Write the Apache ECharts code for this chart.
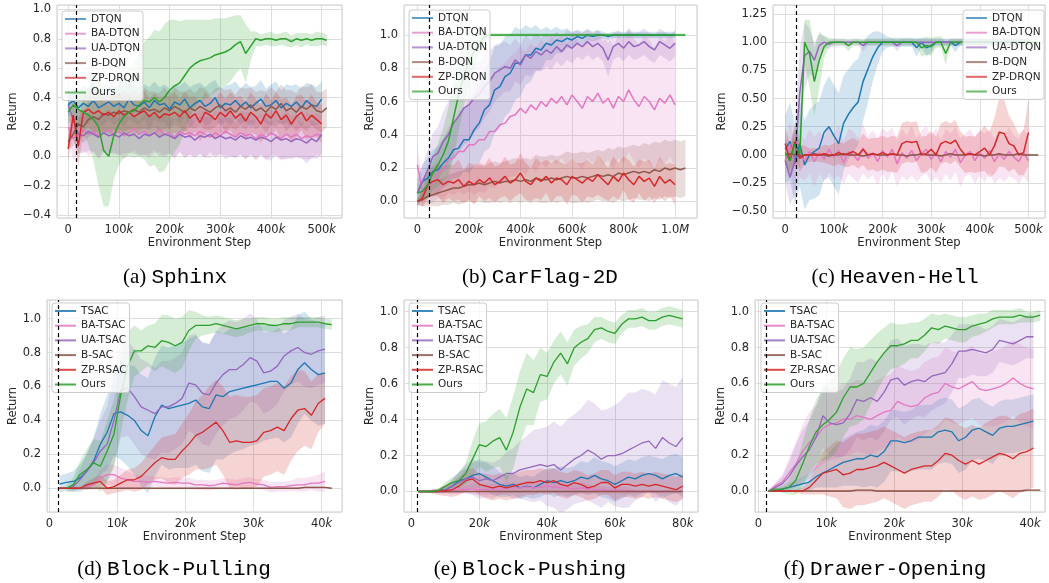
<!DOCTYPE html>
<html>
<head>
<meta charset="utf-8">
<script src="https://cdn.jsdelivr.net/npm/echarts@6/dist/echarts.min.js"></script>
<style>
  html, body { margin: 0; background: #fff; }
  #chart { width: 1049px; height: 583px; }
</style>
</head>
<body>
<div id="chart"></div>
<script>
// series names
const dqnNames = ['DTQN', 'BA-DTQN', 'UA-DTQN', 'B-DQN', 'ZP-DRQN', 'Ours'];
const sacNames = ['TSAC', 'BA-TSAC', 'UA-TSAC', 'B-SAC', 'ZP-RSAC', 'Ours'];
const captions = [['(a)', 'Sphinx'], ['(b)', 'CarFlag-2D'], ['(c)', 'Heaven-Hell'],
                  ['(d)', 'Block-Pulling'], ['(e)', 'Block-Pushing'], ['(f)', 'Drawer-Opening']];
// dashed line (warm-up), in k steps
const warmupSteps = [15, 45, 22, 1.36, 1.65, 1.09];

// ---- (a) Sphinx, steps in k
const stepsA = [0,10,20,30,40,50,60,70,80,90,100,110,120,130,140,150,160,170,180,190,200,210,220,230,240,250,260,270,280,290,300,310,320,330,340,350,360,370,380,390,400,410,420,430,440,450,460,470,480,490,500,510];
const aDtqn = [0.35,0.38,0.33,0.36,0.34,0.38,0.33,0.35,0.37,0.34,0.36,0.33,0.39,0.35,0.34,0.37,0.33,0.38,0.35,0.36,0.32,0.37,0.35,0.39,0.33,0.36,0.38,0.34,0.36,0.40,0.33,0.36,0.35,0.38,0.34,0.37,0.33,0.36,0.39,0.34,0.35,0.38,0.33,0.36,0.34,0.37,0.33,0.38,0.35,0.34,0.39,null];
const aBa = [0.20,0.12,0.16,0.18,0.15,0.17,0.14,0.16,0.18,0.15,0.17,0.14,0.16,0.19,0.15,0.17,0.14,0.16,0.18,0.15,0.16,0.13,0.17,0.15,0.16,0.14,0.17,0.15,0.13,0.16,0.14,0.17,0.15,0.13,0.16,0.14,0.15,0.12,0.15,0.13,0.16,0.14,0.12,0.15,0.13,0.15,0.12,0.14,0.13,0.15,0.14,null];
const aUa = [0.35,0.25,0.15,0.14,0.17,0.15,0.13,0.16,0.14,0.15,0.13,0.16,0.14,0.15,0.12,0.15,0.14,0.16,0.13,0.15,0.14,0.12,0.15,0.13,0.14,0.11,0.14,0.13,0.15,0.12,0.14,0.12,0.13,0.11,0.14,0.12,0.13,0.11,0.13,0.12,0.10,0.13,0.11,0.12,0.10,0.12,0.11,0.09,0.12,0.10,0.15,null];
const aB = [0.10,0.15,0.22,0.20,0.25,0.27,0.25,0.29,0.28,0.30,0.29,0.31,0.30,0.32,0.30,0.33,0.31,0.32,0.30,0.33,0.31,0.34,0.32,0.30,0.33,0.31,0.34,0.32,0.30,0.33,0.35,0.31,0.33,0.30,0.34,0.32,0.35,0.31,0.33,0.30,0.34,0.32,0.36,0.31,0.33,0.30,0.34,0.32,0.35,0.31,0.30,0.33];
const aZp = [0.05,0.28,0.07,0.30,0.32,0.29,0.31,0.28,0.30,0.27,0.31,0.28,0.30,0.27,0.29,0.31,0.27,0.30,0.26,0.29,0.28,0.30,0.27,0.31,0.26,0.29,0.23,0.30,0.28,0.25,0.30,0.27,0.31,0.26,0.29,0.24,0.30,0.27,0.22,0.29,0.26,0.31,0.25,0.28,0.22,0.27,0.30,0.24,0.28,0.25,0.22,null];
const aOurs = [0.30,0.35,0.32,0.30,0.28,0.25,0.20,0.04,0.00,0.14,0.22,0.27,0.30,0.31,0.35,0.38,0.37,0.40,0.37,0.40,0.45,0.48,0.50,0.55,0.60,0.63,0.65,0.66,0.67,0.69,0.70,0.71,0.73,0.76,0.78,0.70,0.75,0.80,0.79,0.80,0.80,0.79,0.80,0.80,0.78,0.80,0.79,0.80,0.79,0.80,0.80,0.79];
const aDtqnSd = [0.08,0.10,0.12,0.13,0.12,0.13,0.12,0.14,0.12,0.13,0.12,0.13,0.14,0.12,0.13,0.12,0.14,0.13,0.12,0.13,0.14,0.12,0.13,0.12,0.14,0.13,0.12,0.13,0.14,0.12,0.13,0.12,0.14,0.13,0.12,0.13,0.14,0.12,0.13,0.12,0.14,0.13,0.12,0.13,0.14,0.12,0.13,0.12,0.14,0.13,0.12,0];
const aBaSd = [0.10,0.14,0.15,0.14,0.15,0.14,0.16,0.14,0.15,0.14,0.15,0.16,0.14,0.15,0.14,0.16,0.15,0.14,0.15,0.16,0.14,0.15,0.14,0.16,0.15,0.14,0.15,0.16,0.14,0.15,0.14,0.16,0.15,0.14,0.15,0.16,0.14,0.15,0.14,0.16,0.15,0.14,0.15,0.16,0.14,0.15,0.14,0.16,0.15,0.14,0.15,0];
const aUaSd = [0.12,0.14,0.13,0.12,0.13,0.12,0.14,0.12,0.13,0.12,0.13,0.14,0.12,0.13,0.12,0.14,0.13,0.12,0.13,0.14,0.12,0.13,0.12,0.14,0.13,0.12,0.13,0.14,0.12,0.13,0.12,0.14,0.13,0.12,0.13,0.14,0.12,0.13,0.12,0.14,0.13,0.12,0.13,0.14,0.12,0.13,0.12,0.14,0.13,0.12,0.13,0];
const aBSd = [0.05,0.08,0.10,0.11,0.12,0.12,0.13,0.12,0.13,0.12,0.13,0.14,0.12,0.13,0.12,0.14,0.13,0.12,0.13,0.14,0.12,0.13,0.12,0.14,0.13,0.12,0.13,0.14,0.12,0.13,0.12,0.14,0.13,0.12,0.13,0.14,0.12,0.13,0.12,0.14,0.13,0.12,0.13,0.14,0.12,0.13,0.14,0.15,0.14,0.13,0.14,0.13];
const aZpSd = [0.08,0.12,0.14,0.13,0.12,0.13,0.14,0.12,0.13,0.14,0.12,0.13,0.14,0.12,0.13,0.14,0.12,0.13,0.14,0.12,0.13,0.14,0.12,0.13,0.14,0.12,0.13,0.14,0.12,0.13,0.14,0.12,0.13,0.14,0.12,0.13,0.14,0.12,0.13,0.14,0.12,0.13,0.14,0.12,0.13,0.14,0.12,0.13,0.14,0.12,0.13,0];
const aOursSd = [0.08,0.10,0.12,0.15,0.20,0.28,0.40,0.38,0.34,0.30,0.28,0.28,0.30,0.32,0.35,0.40,0.44,0.46,0.48,0.50,0.48,0.45,0.42,0.38,0.33,0.30,0.28,0.27,0.26,0.25,0.24,0.23,0.22,0.20,0.18,0.20,0.10,0.05,0.04,0.04,0.05,0.04,0.04,0.05,0.04,0.04,0.05,0.04,0.04,0.05,0.04,0.04];

// ---- (b) CarFlag-2D
const stepsB = [0,20,40,60,80,100,120,140,160,180,200,220,240,260,280,300,320,340,360,380,400,420,440,460,480,500,520,540,560,580,600,620,640,660,680,700,720,740,760,780,800,820,840,860,880,900,920,940,960,980,1000,1020,1040];
const bDtqn = [0.05,0.12,0.14,0.18,0.19,0.23,0.26,0.31,0.32,0.37,0.37,0.43,0.47,0.55,0.58,0.67,0.69,0.75,0.77,0.83,0.83,0.88,0.88,0.92,0.91,0.95,0.94,0.97,0.96,0.98,0.97,0.99,0.98,1.00,0.99,1.00,1.00,0.99,1.00,1.00,1.00,1.00,1.00,1.00,1.00,1.00,1.00,1.00,1.00,1.00,1.00,null,null];
const bBa = [0.22,0.05,0.09,0.11,0.17,0.19,0.25,0.26,0.30,0.30,0.34,0.34,0.37,0.37,0.42,0.42,0.46,0.47,0.51,0.52,0.56,0.53,0.58,0.55,0.60,0.57,0.62,0.59,0.63,0.58,0.64,0.60,0.56,0.63,0.60,0.65,0.59,0.62,0.56,0.63,0.60,0.67,0.61,0.57,0.63,0.60,0.55,0.62,0.59,0.64,0.58,null,null];
const bUa = [0.05,0.12,0.19,0.27,0.29,0.36,0.40,0.47,0.51,0.56,0.58,0.62,0.64,0.69,0.72,0.77,0.79,0.81,0.80,0.85,0.82,0.88,0.86,0.90,0.88,0.91,0.89,0.93,0.90,0.94,0.92,0.95,0.93,0.96,0.93,0.95,0.92,0.85,0.93,0.95,0.92,0.96,0.93,0.94,0.96,0.93,0.91,0.96,0.94,0.92,0.95,null,null];
const bB = [0.00,0.01,0.03,0.04,0.05,0.06,0.07,0.08,0.08,0.09,0.10,0.10,0.11,0.10,0.11,0.12,0.11,0.12,0.12,0.13,0.12,0.13,0.12,0.14,0.13,0.13,0.14,0.13,0.14,0.15,0.14,0.14,0.15,0.14,0.15,0.16,0.15,0.16,0.15,0.17,0.16,0.17,0.18,0.17,0.18,0.17,0.19,0.18,0.20,0.19,0.20,0.19,0.20];
const bZp = [0.00,0.02,0.10,0.12,0.13,0.10,0.12,0.11,0.13,0.09,0.12,0.10,0.13,0.11,0.14,0.10,0.12,0.15,0.11,0.13,0.17,0.12,0.10,0.14,0.12,0.15,0.11,0.14,0.13,0.10,0.15,0.13,0.11,0.14,0.12,0.16,0.13,0.10,0.15,0.12,0.17,0.13,0.10,0.15,0.12,0.14,0.09,0.15,0.11,0.13,0.10,null,null];
const bOurs = [0.05,0.06,0.10,0.17,0.22,0.28,0.36,0.50,0.64,0.75,0.84,0.90,0.95,0.99,1.00,1.00,1.00,1.00,1.00,1.00,1.00,1.00,1.00,1.00,1.00,1.00,1.00,1.00,1.00,1.00,1.00,1.00,1.00,1.00,1.00,1.00,1.00,1.00,1.00,1.00,1.00,1.00,1.00,1.00,1.00,1.00,1.00,1.00,1.00,1.00,1.00,1.00,1.00];
const bDtqnSd = [0.08,0.10,0.12,0.13,0.14,0.15,0.16,0.17,0.18,0.19,0.20,0.22,0.24,0.25,0.26,0.26,0.25,0.24,0.23,0.22,0.20,0.18,0.16,0.14,0.12,0.10,0.09,0.08,0.07,0.06,0.05,0.04,0.04,0.03,0.03,0.03,0.02,0.02,0.02,0.02,0.02,0.02,0.02,0.02,0.02,0.02,0.02,0.02,0.02,0.02,0.02,0,0];
const bBaSd = [0.10,0.08,0.10,0.12,0.15,0.18,0.20,0.22,0.24,0.26,0.28,0.30,0.31,0.32,0.33,0.34,0.35,0.36,0.36,0.37,0.37,0.37,0.37,0.37,0.37,0.37,0.37,0.37,0.37,0.37,0.37,0.37,0.37,0.37,0.37,0.37,0.37,0.37,0.37,0.37,0.37,0.37,0.37,0.37,0.37,0.37,0.37,0.37,0.37,0.37,0.37,0,0];
const bUaSd = [0.08,0.10,0.12,0.14,0.16,0.18,0.20,0.21,0.22,0.22,0.22,0.21,0.20,0.19,0.18,0.17,0.16,0.15,0.14,0.13,0.12,0.12,0.11,0.11,0.10,0.10,0.10,0.09,0.09,0.09,0.09,0.08,0.08,0.08,0.08,0.08,0.08,0.10,0.08,0.08,0.08,0.08,0.08,0.08,0.08,0.08,0.08,0.08,0.08,0.08,0.08,0,0];
const bBSd = [0.02,0.04,0.06,0.07,0.08,0.08,0.09,0.09,0.10,0.10,0.10,0.11,0.11,0.11,0.12,0.12,0.12,0.12,0.13,0.13,0.13,0.13,0.13,0.14,0.14,0.14,0.14,0.14,0.14,0.15,0.15,0.15,0.15,0.15,0.15,0.15,0.15,0.16,0.16,0.16,0.16,0.16,0.16,0.16,0.17,0.17,0.17,0.17,0.17,0.17,0.17,0.17,0.17];
const bZpSd = [0.02,0.05,0.08,0.09,0.10,0.11,0.10,0.11,0.12,0.10,0.11,0.12,0.10,0.11,0.12,0.11,0.10,0.12,0.11,0.10,0.12,0.11,0.10,0.12,0.11,0.10,0.12,0.11,0.10,0.12,0.11,0.10,0.12,0.11,0.10,0.12,0.11,0.10,0.12,0.11,0.10,0.12,0.11,0.10,0.12,0.11,0.10,0.12,0.11,0.10,0.12,0,0];
const bOursSd = [0.05,0.06,0.08,0.10,0.13,0.16,0.20,0.24,0.22,0.18,0.14,0.10,0.06,0.03,0.01,0.01,0.01,0.01,0.01,0.01,0.01,0.01,0.01,0.01,0.01,0.01,0.01,0.01,0.01,0.01,0.01,0.01,0.01,0.01,0.01,0.01,0.01,0.01,0.01,0.01,0.01,0.01,0.01,0.01,0.01,0.01,0.01,0.01,0.01,0.01,0.01,0.01,0.01];

// ---- (c) Heaven-Hell
const stepsC = [0,10,20,30,40,50,60,70,80,90,100,110,120,130,140,150,160,170,180,190,200,210,220,230,240,250,260,270,280,290,300,310,320,330,340,350,360,370,380,390,400,410,420,430,440,450,460,470,480,490,500,510,520];
const cDtqn = [0.05,0.12,-0.08,0.10,-0.09,0.00,0.03,0.06,0.20,0.25,0.17,0.10,0.28,0.36,0.42,0.47,0.65,0.76,0.87,0.95,1.00,1.00,1.00,1.00,1.00,1.00,1.00,0.95,1.00,0.95,0.97,1.00,1.00,1.00,1.00,0.97,1.00,1.00,1.00,1.00,1.00,1.00,1.00,1.00,1.00,1.00,1.00,1.00,1.00,1.00,1.00,null,null];
const cBa = [-0.05,0.10,-0.10,0.00,-0.05,0.03,-0.06,0.02,-0.04,0.05,-0.02,0.04,-0.07,0.03,0.00,-0.05,0.06,-0.03,0.02,-0.06,0.04,-0.02,0.05,-0.08,0.02,-0.03,0.04,-0.05,0.01,0.05,-0.04,0.02,-0.06,0.03,-0.02,0.05,-0.07,0.00,0.03,-0.05,0.02,-0.03,0.04,-0.06,0.01,-0.04,0.03,-0.02,-0.06,0.02,-0.05,null,null];
const cUa = [-0.05,-0.20,-0.05,0.55,0.88,0.92,0.84,0.97,1.00,0.98,1.00,1.00,1.00,1.00,1.00,1.00,0.97,1.00,1.00,1.00,1.00,1.00,1.00,0.97,1.00,1.00,1.00,1.00,1.00,1.00,1.00,1.00,1.00,1.00,1.00,1.00,1.00,1.00,1.00,1.00,1.00,1.00,1.00,1.00,1.00,1.00,1.00,1.00,1.00,1.00,1.00,null,null];
const cB = [0.00,0.01,0.00,-0.01,0.00,0.00,0.01,0.00,0.00,-0.01,0.00,0.00,0.01,0.00,0.00,0.00,-0.01,0.00,0.01,0.00,0.00,0.00,0.01,0.00,0.00,-0.01,0.00,0.00,0.01,0.00,0.00,0.00,-0.01,0.00,0.01,0.00,0.00,0.00,0.01,0.00,0.00,-0.01,0.00,0.00,0.01,0.00,0.00,0.00,0.01,0.00,0.00,0.00,0.00];
const cZp = [0.10,-0.05,0.12,-0.03,0.00,0.00,0.00,0.00,0.01,0.00,0.00,0.02,0.00,0.01,0.03,0.00,0.05,0.00,0.01,0.00,0.02,0.00,0.01,0.00,0.10,0.12,0.11,0.12,0.00,0.01,0.05,0.00,0.10,0.12,0.10,0.13,0.05,0.00,0.01,0.00,0.03,0.06,0.00,0.08,0.20,0.19,0.10,0.08,0.00,0.02,0.20,null,null];
const cOurs = [0.02,-0.05,0.10,0.00,1.00,0.90,0.65,0.84,0.96,1.00,1.00,1.00,1.00,0.97,1.00,1.00,1.00,1.00,1.00,1.00,1.00,1.00,1.00,1.00,1.00,1.00,1.00,1.00,0.95,0.97,0.96,1.00,1.00,0.90,1.00,1.00,1.00,1.00,1.00,1.00,1.00,1.00,1.00,1.00,1.00,1.00,1.00,1.00,1.00,1.00,1.00,1.00,1.00];
const cDtqnSd = [0.30,0.35,0.35,0.38,0.40,0.40,0.42,0.42,0.42,0.45,0.45,0.45,0.42,0.40,0.40,0.38,0.35,0.30,0.22,0.15,0.08,0.05,0.04,0.04,0.04,0.04,0.04,0.08,0.04,0.08,0.06,0.03,0.03,0.03,0.03,0.06,0.03,0.03,0.03,0.03,0.03,0.03,0.03,0.03,0.03,0.03,0.03,0.03,0.03,0.03,0.03,0,0];
const cBaSd = [0.15,0.20,0.22,0.20,0.18,0.20,0.22,0.19,0.20,0.21,0.20,0.22,0.19,0.20,0.21,0.20,0.22,0.19,0.20,0.21,0.20,0.22,0.19,0.20,0.21,0.20,0.22,0.19,0.20,0.21,0.20,0.22,0.19,0.20,0.21,0.20,0.22,0.19,0.20,0.21,0.20,0.22,0.19,0.20,0.21,0.20,0.22,0.19,0.20,0.21,0.20,0,0];
const cUaSd = [0.20,0.25,0.30,0.40,0.30,0.20,0.15,0.10,0.05,0.04,0.03,0.03,0.03,0.03,0.03,0.03,0.05,0.03,0.03,0.03,0.03,0.03,0.03,0.05,0.03,0.03,0.03,0.03,0.03,0.03,0.03,0.03,0.03,0.03,0.03,0.03,0.03,0.03,0.03,0.03,0.03,0.03,0.03,0.03,0.03,0.03,0.03,0.03,0.03,0.03,0.03,0,0];
const cBSd = [0.01,0.01,0.01,0.01,0.01,0.01,0.01,0.01,0.01,0.01,0.01,0.01,0.01,0.01,0.01,0.01,0.01,0.01,0.01,0.01,0.01,0.01,0.01,0.01,0.01,0.01,0.01,0.01,0.01,0.01,0.01,0.01,0.01,0.01,0.01,0.01,0.01,0.01,0.01,0.01,0.01,0.01,0.01,0.01,0.01,0.01,0.01,0.01,0.01,0.01,0.01,0.01,0.01];
const cZpSd = [0.15,0.15,0.15,0.12,0.08,0.06,0.06,0.06,0.08,0.08,0.10,0.10,0.10,0.12,0.12,0.12,0.14,0.14,0.14,0.15,0.15,0.15,0.16,0.16,0.18,0.18,0.18,0.18,0.16,0.16,0.16,0.16,0.18,0.18,0.18,0.18,0.16,0.16,0.16,0.16,0.18,0.20,0.20,0.25,0.30,0.30,0.25,0.20,0.18,0.20,0.30,0,0];
const cOursSd = [0.10,0.10,0.12,0.12,0.20,0.30,0.30,0.25,0.10,0.04,0.03,0.03,0.03,0.05,0.03,0.03,0.03,0.03,0.03,0.03,0.03,0.03,0.03,0.03,0.03,0.03,0.03,0.03,0.08,0.08,0.08,0.05,0.05,0.10,0.03,0.03,0.03,0.03,0.03,0.03,0.03,0.03,0.03,0.03,0.03,0.03,0.03,0.03,0.03,0.03,0.03,0.03,0.03];

// ---- (d) Block-Pulling
const stepsD = [1.5,2.5,3.5,4.5,5.5,6.5,7.5,8.5,9.5,10.5,11.5,12.5,13.5,14.5,15.5,16.5,17.5,18.5,19.5,20.5,21.5,22.5,23.5,24.5,25.5,26.5,27.5,28.5,29.5,30.5,31.5,32.5,33.5,34.5,35.5,36.5,37.5,38.5,39.5,40.5,41.5];
const dTsac = [0.025,0.035,0.04,0.06,0.10,0.16,0.26,0.33,0.44,0.45,0.43,0.40,0.34,0.31,0.42,0.49,0.47,0.48,0.49,0.50,0.52,0.48,0.47,0.55,0.54,0.57,0.58,0.59,0.60,0.61,0.62,0.63,0.63,0.59,0.62,0.70,0.74,0.70,0.67,0.68,null];
const dBa = [0,0,0,0,0.01,0.02,0.06,0.08,0.08,0.06,0.05,0.04,0.04,0.035,0.04,0.035,0.03,0.035,0.03,0.03,0.02,0.02,0.015,0.02,0.03,0.025,0.02,0.03,0.035,0.025,0.02,0.005,0.01,0.01,0.015,0.02,0.02,0.03,0.03,0.04,null];
const dUa = [0,0,0.01,0.05,0.10,0.15,0.22,0.26,0.40,0.58,0.59,0.54,0.48,0.46,0.44,0.48,0.48,0.50,0.53,0.62,0.61,0.56,0.55,0.62,0.67,0.70,0.70,0.73,0.77,0.75,0.68,0.69,0.72,0.78,0.81,0.83,0.80,0.79,0.81,0.82,null];
const dB = [0,0,0,0,0,0,0,0,0,0,0,0,0,0,0,0,0,0,0,0,0,0,0,0,0,0,0,0,0,0,0,0,0,0,0,0,0.005,0.005,0.005,0.005,0];
const dZp = [0,0,0,0,0.02,0.03,0.04,0.00,0.01,0.03,0.05,0.05,0.07,0.11,0.15,0.18,0.17,0.17,0.22,0.26,0.31,0.33,0.36,0.39,0.34,0.27,0.28,0.27,0.27,0.28,0.33,0.34,0.36,0.34,0.41,0.46,0.47,0.43,0.50,0.53,null];
const dOurs = [null,0.00,0.02,0.08,0.11,0.15,0.13,0.22,0.32,0.55,0.72,0.81,0.81,0.84,0.83,0.87,0.86,0.84,0.86,0.93,0.96,0.96,0.96,0.97,0.96,0.95,0.94,0.95,0.96,0.97,0.97,0.96,0.96,0.97,0.97,0.98,0.98,0.98,0.98,0.97,0.965];
const dTsacSd = [0.05,0.05,0.06,0.08,0.10,0.14,0.18,0.22,0.25,0.28,0.30,0.32,0.33,0.34,0.35,0.35,0.36,0.36,0.37,0.38,0.38,0.38,0.38,0.38,0.37,0.37,0.36,0.36,0.35,0.35,0.34,0.34,0.33,0.32,0.32,0.32,0.30,0.30,0.30,0.30,0];
const dBaSd = [0,0,0.01,0.01,0.02,0.03,0.05,0.06,0.06,0.06,0.05,0.04,0.04,0.04,0.03,0.03,0.03,0.03,0.03,0.03,0.03,0.03,0.03,0.03,0.03,0.03,0.03,0.03,0.03,0.03,0.03,0.03,0.03,0.03,0.03,0.04,0.04,0.04,0.05,0.06,0];
const dUaSd = [0,0,0.02,0.06,0.10,0.14,0.18,0.22,0.26,0.28,0.28,0.28,0.28,0.28,0.27,0.27,0.27,0.27,0.27,0.28,0.30,0.30,0.30,0.30,0.30,0.29,0.28,0.27,0.26,0.25,0.24,0.23,0.22,0.21,0.20,0.20,0.20,0.20,0.20,0.20,0];
const dBSd = [0.005,0.005,0.005,0.005,0.005,0.005,0.005,0.005,0.005,0.005,0.005,0.005,0.005,0.005,0.005,0.005,0.005,0.005,0.005,0.005,0.005,0.005,0.005,0.005,0.005,0.005,0.005,0.005,0.005,0.005,0.005,0.005,0.005,0.005,0.005,0.005,0.005,0.005,0.005,0.005,0.005];
const dZpSd = [0,0,0,0,0.02,0.03,0.04,0.04,0.04,0.05,0.06,0.07,0.08,0.09,0.10,0.12,0.14,0.15,0.16,0.18,0.20,0.22,0.24,0.25,0.26,0.27,0.27,0.27,0.27,0.27,0.26,0.26,0.26,0.26,0.25,0.24,0.22,0.20,0.17,0.15,0];
const dOursSd = [0,0.02,0.04,0.08,0.12,0.14,0.15,0.18,0.20,0.22,0.20,0.15,0.12,0.12,0.14,0.15,0.16,0.16,0.15,0.12,0.08,0.06,0.05,0.05,0.05,0.05,0.05,0.05,0.04,0.04,0.04,0.04,0.04,0.04,0.04,0.03,0.03,0.03,0.03,0.03,0.03];

// ---- (e) Block-Pushing
const stepsE = [2,4,6,8,10,12,14,16,18,20,22,24,26,28,30,32,34,36,38,40,42,44,46,48,50,52,54,56,58,60,62,64,66,68,70,72,74,76,78,80];
const eTsac = [0,0,0,0.005,0.01,0.03,0.06,0.07,0.09,0.10,0.08,0.06,0.04,0.03,0.04,0.02,0.03,0.02,0.04,0.06,0.05,0.06,0.05,0.06,0.08,0.07,0.09,0.07,0.06,0.04,0.06,0.08,0.07,0.09,0.10,0.09,0.07,0.09,0.10,0.08];
const eBa = [0,0,0,0,0,0.005,0.01,0.01,0.015,0.01,0.01,0.015,0.01,0.02,0.02,0.02,0.025,0.02,0.025,0.03,0.025,0.02,0.02,0.015,0.02,0.015,0.01,0.01,0.005,0.01,0.005,0.005,0,0,0,0,0,0,0,0];
const eUa = [0,0,0,0,0.01,0.03,0.05,0.07,0.08,0.06,0.07,0.06,0.08,0.10,0.10,0.12,0.13,0.14,0.15,0.14,0.15,0.12,0.15,0.18,0.20,0.23,0.21,0.18,0.20,0.20,0.21,0.23,0.25,0.27,0.28,0.24,0.30,0.27,0.25,0.30];
const eB = [0,0,0,0,0,0,0,0,0,0,0,0,0,0,0,0,0,0,0,0,0,0,0,0,0,0,0,0,0,0,0,0,0,0,0,0,0,0,0,0];
const eZp = [0,0,0,0,0.005,0.01,0.03,0.06,0.07,0.04,0.03,0.02,0.03,0.02,0.03,0.04,0.05,0.05,0.06,0.05,0.06,0.04,0.03,0.05,0.04,0.02,0.03,0.05,0.05,0.02,0.04,0.04,0.03,0.04,0.03,0.04,0.03,0.02,0.01,0.03];
const eOurs = [0,0,0,0.005,0.03,0.05,0.06,0.10,0.18,0.26,0.25,0.28,0.30,0.23,0.33,0.47,0.57,0.55,0.65,0.64,0.72,0.77,0.71,0.80,0.83,0.85,0.90,0.91,0.89,0.88,0.93,0.96,0.96,0.97,0.95,0.95,0.97,0.98,0.97,0.96];
const eTsacSd = [0,0,0.01,0.01,0.02,0.03,0.05,0.06,0.07,0.08,0.08,0.08,0.07,0.06,0.06,0.06,0.06,0.06,0.07,0.07,0.08,0.08,0.08,0.08,0.09,0.09,0.10,0.10,0.10,0.10,0.10,0.10,0.10,0.10,0.10,0.10,0.11,0.11,0.11,0.11];
const eBaSd = [0,0,0,0.01,0.01,0.02,0.02,0.02,0.03,0.03,0.03,0.03,0.03,0.03,0.03,0.03,0.03,0.03,0.03,0.03,0.03,0.03,0.03,0.03,0.03,0.03,0.02,0.02,0.02,0.02,0.02,0.02,0.01,0.01,0.01,0.01,0.01,0.01,0.01,0.01];
const eUaSd = [0,0,0,0.01,0.02,0.04,0.06,0.08,0.10,0.10,0.10,0.10,0.10,0.12,0.14,0.16,0.18,0.20,0.20,0.22,0.24,0.24,0.25,0.25,0.26,0.28,0.28,0.27,0.26,0.28,0.30,0.32,0.30,0.30,0.28,0.30,0.32,0.33,0.33,0.34];
const eBSd = [0,0,0,0,0,0,0,0,0,0,0,0,0,0,0,0,0,0,0,0,0,0,0,0,0,0,0,0,0,0,0,0,0,0,0,0,0,0,0,0];
const eZpSd = [0,0,0.01,0.02,0.03,0.04,0.05,0.06,0.06,0.06,0.07,0.07,0.07,0.07,0.07,0.07,0.07,0.07,0.07,0.07,0.07,0.07,0.07,0.07,0.07,0.07,0.07,0.07,0.07,0.07,0.07,0.07,0.07,0.07,0.07,0.07,0.07,0.07,0.07,0.07];
const eOursSd = [0,0,0.01,0.01,0.02,0.03,0.04,0.06,0.10,0.12,0.14,0.15,0.16,0.18,0.20,0.20,0.20,0.18,0.15,0.13,0.12,0.12,0.12,0.10,0.09,0.08,0.07,0.06,0.06,0.06,0.05,0.05,0.05,0.05,0.05,0.05,0.05,0.05,0.05,0.05];

// ---- (f) Drawer-Opening
const stepsF = [1.5,2.5,3.5,4.5,5.5,6.5,7.5,8.5,9.5,10.5,11.5,12.5,13.5,14.5,15.5,16.5,17.5,18.5,19.5,20.5,21.5,22.5,23.5,24.5,25.5,26.5,27.5,28.5,29.5,30.5,31.5,32.5,33.5,34.5,35.5,36.5,37.5,38.5,39.5,40.5,41.5];
const fTsac = [0,0,0.01,0.02,0.03,0.04,0.05,0.08,0.10,0.12,0.14,0.16,0.17,0.18,0.18,0.20,0.19,0.22,0.28,0.28,0.27,0.28,0.30,0.30,0.30,0.33,0.34,0.33,0.28,0.30,0.34,0.35,0.33,0.31,0.35,0.36,0.36,0.37,0.38,0.39,null];
const fBa = [0,0.03,0.05,0.10,0.15,0.22,0.27,0.30,0.35,0.37,0.38,0.40,0.40,0.42,0.41,0.40,0.42,0.44,0.45,0.50,0.48,0.47,0.48,0.52,0.54,0.55,0.60,0.58,0.57,0.59,0.61,0.57,0.56,0.57,0.58,0.60,0.63,0.60,0.58,0.57,null];
const fUa = [0,0.02,0.04,0.08,0.14,0.19,0.23,0.30,0.42,0.38,0.37,0.38,0.43,0.51,0.50,0.52,0.50,0.55,0.62,0.63,0.59,0.61,0.62,0.61,0.64,0.65,0.66,0.71,0.78,0.78,0.79,0.78,0.77,0.79,0.84,0.83,0.82,0.84,0.86,0.86,null];
const fB = [0,0,0,0,0,0,0,0,0,0,0,0,0,0.005,0.005,0.005,0,0,0,0,0,0,0,0,0,0,0,0,0,0,0,0,0,0,0,0,0,0,0.005,0.005,0.005];
const fZp = [0,0,0,0,0,0,0.02,0.06,0.10,0.11,0.12,0.09,0.10,0.12,0.12,0.13,0.14,0.16,0.14,0.12,0.10,0.12,0.13,0.14,0.14,0.17,0.21,0.20,0.17,0.15,0.17,0.15,0.17,0.19,0.21,0.20,0.18,0.21,0.22,0.24,null];
const fOurs = [0,0.01,0.01,0.02,0.06,0.15,0.25,0.33,0.37,0.40,0.44,0.52,0.58,0.58,0.60,0.66,0.72,0.77,0.81,0.81,0.82,0.84,0.84,0.87,0.91,0.90,0.92,0.91,0.90,0.90,0.92,0.93,0.94,0.96,0.97,0.97,0.97,0.98,0.97,0.97,0.98];
const fTsacSd = [0,0,0.01,0.02,0.03,0.04,0.05,0.06,0.08,0.10,0.12,0.13,0.14,0.15,0.16,0.17,0.17,0.17,0.17,0.17,0.17,0.17,0.18,0.18,0.18,0.18,0.18,0.18,0.18,0.18,0.17,0.17,0.16,0.16,0.15,0.15,0.15,0.15,0.15,0.15,0];
const fBaSd = [0,0.02,0.04,0.08,0.12,0.15,0.17,0.18,0.20,0.20,0.20,0.20,0.20,0.20,0.20,0.20,0.20,0.20,0.20,0.20,0.20,0.20,0.20,0.20,0.20,0.20,0.20,0.20,0.20,0.20,0.20,0.20,0.20,0.21,0.21,0.21,0.21,0.22,0.22,0.22,0];
const fUaSd = [0,0.02,0.04,0.08,0.12,0.15,0.16,0.17,0.18,0.18,0.18,0.19,0.20,0.21,0.22,0.22,0.22,0.22,0.22,0.22,0.22,0.21,0.20,0.20,0.19,0.18,0.17,0.16,0.15,0.15,0.14,0.14,0.13,0.13,0.12,0.12,0.12,0.12,0.12,0.12,0];
const fBSd = [0.005,0.005,0.005,0.005,0.005,0.005,0.005,0.005,0.005,0.005,0.005,0.005,0.005,0.005,0.005,0.005,0.005,0.005,0.005,0.005,0.005,0.005,0.005,0.005,0.005,0.005,0.005,0.005,0.005,0.005,0.005,0.005,0.005,0.005,0.005,0.005,0.005,0.005,0.005,0.005,0.005];
const fZpSd = [0,0,0,0,0.01,0.02,0.04,0.08,0.12,0.14,0.16,0.18,0.20,0.20,0.20,0.20,0.20,0.20,0.20,0.20,0.20,0.20,0.20,0.20,0.20,0.20,0.20,0.20,0.20,0.20,0.20,0.20,0.21,0.21,0.21,0.22,0.22,0.22,0.22,0.22,0];
const fOursSd = [0,0.01,0.02,0.04,0.08,0.12,0.15,0.18,0.20,0.22,0.22,0.22,0.22,0.21,0.20,0.18,0.16,0.14,0.13,0.12,0.11,0.10,0.10,0.09,0.08,0.08,0.07,0.07,0.07,0.07,0.06,0.06,0.05,0.05,0.04,0.04,0.04,0.04,0.03,0.03,0.03];

const panelData = [
  { steps: stepsA, names: dqnNames, means: [aDtqn, aBa, aUa, aB, aZp, aOurs], sds: [aDtqnSd, aBaSd, aUaSd, aBSd, aZpSd, aOursSd] },
  { steps: stepsB, names: dqnNames, means: [bDtqn, bBa, bUa, bB, bZp, bOurs], sds: [bDtqnSd, bBaSd, bUaSd, bBSd, bZpSd, bOursSd] },
  { steps: stepsC, names: dqnNames, means: [cDtqn, cBa, cUa, cB, cZp, cOurs], sds: [cDtqnSd, cBaSd, cUaSd, cBSd, cZpSd, cOursSd] },
  { steps: stepsD, names: sacNames, means: [dTsac, dBa, dUa, dB, dZp, dOurs], sds: [dTsacSd, dBaSd, dUaSd, dBSd, dZpSd, dOursSd] },
  { steps: stepsE, names: sacNames, means: [eTsac, eBa, eUa, eB, eZp, eOurs], sds: [eTsacSd, eBaSd, eUaSd, eBSd, eZpSd, eOursSd] },
  { steps: stepsF, names: sacNames, means: [fTsac, fBa, fUa, fB, fZp, fOurs], sds: [fTsacSd, fBaSd, fUaSd, fBSd, fZpSd, fOursSd] }
];

// layout of each subplot (pixels + axis extents)
const layout = [
  { left: 57,  top: 5,   width: 285, height: 213, xMin: -22,  xMax: 540,  xStep: 100, yMin: -0.42,  yMax: 1.03,  yStep: 0.2,  yDec: 1, yGap: 38, lgLeft: 62,  lgTop: 11,  capX: 175, capY: 277, lw: 1.5 },
  { left: 404, top: 5,   width: 293, height: 213, xMin: -52,  xMax: 1085, xStep: 200, yMin: -0.1,   yMax: 1.18,  yStep: 0.2,  yDec: 1, yGap: 28, lgLeft: 409, lgTop: 10,  capX: 540, capY: 277, lw: 1.5 },
  { left: 773, top: 5,   width: 272, height: 213, xMin: -25,  xMax: 534,  xStep: 100, yMin: -0.56,  yMax: 1.33,  yStep: 0.25, yDec: 2, yGap: 45, lgLeft: 963, lgTop: 10,  capX: 895, capY: 277, lw: 1.5 },
  { left: 47,  top: 300, width: 295, height: 212, xMin: -0.34, xMax: 43,  xStep: 10,  yMin: -0.14,  yMax: 1.11,  yStep: 0.2,  yDec: 1, yGap: 28, lgLeft: 52,  lgTop: 303, capX: 174, capY: 569, lw: 1.3 },
  { left: 404, top: 300, width: 294, height: 212, xMin: -2.2, xMax: 84.5, xStep: 20,  yMin: -0.114, yMax: 1.065, yStep: 0.2,  yDec: 1, yGap: 27, lgLeft: 409, lgTop: 303, capX: 530, capY: 569, lw: 1.3 },
  { left: 755, top: 300, width: 290, height: 212, xMin: -0.5, xMax: 42.2, xStep: 10,  yMin: -0.117, yMax: 1.065, yStep: 0.2,  yDec: 1, yGap: 27, lgLeft: 761, lgTop: 303, capX: 885, capY: 569, lw: 1.3 }
];

const colors = ['#1f77b4', '#e377c2', '#9467bd', '#8c564b', '#d62728', '#2ca02c'];
const textColor = '#262626';
const font = 'DejaVu Sans';
// legend marker: a short thick bar
const legendBar = 'path://M0,0H42V4H0Z';

function fmtX(v) {
  if (v === 0) return '0';
  if (v >= 1000) return (v / 1000).toFixed(1) + '{i|M}';
  return Math.round(v) + '{i|k}';
}

function bandSeries(gi, steps, mean, sd, color) {
  return {
    type: 'custom', xAxisIndex: gi, yAxisIndex: gi, silent: true, clip: true, z: 1,
    data: [[steps[0], 0]],
    renderItem: function (params, api) {
      const up = [], lo = [];
      steps.forEach(function (x, i) {
        if (mean[i] == null) return;
        up.push(api.coord([x, mean[i] + sd[i]]));
        lo.unshift(api.coord([x, mean[i] - sd[i]]));
      });
      return { type: 'polygon', shape: { points: up.concat(lo) },
               style: { fill: echarts.color.modifyAlpha(color, 0.2) } };
    }
  };
}

const chart = echarts.init(document.getElementById('chart'));
const option = { animation: false, backgroundColor: '#fff', grid: [], xAxis: [], yAxis: [], legend: [], series: [], graphic: [] };

panelData.forEach(function (p, gi) {
  const L = layout[gi];
  option.grid.push({ left: L.left, top: L.top, width: L.width, height: L.height, show: true,
    borderColor: '#cccccc', borderWidth: 1, backgroundColor: '#fff' });
  option.xAxis.push({
    type: 'value', gridIndex: gi, min: L.xMin, max: L.xMax, minInterval: L.xStep, maxInterval: L.xStep,
    name: 'Environment Step', nameLocation: 'middle', nameGap: 19,
    nameTextStyle: { fontFamily: font, fontSize: 11.5, color: textColor },
    axisLine: { show: false }, axisTick: { show: false },
    splitLine: { lineStyle: { color: '#dddddd', width: 1 } },
    axisLabel: { margin: 6, showMinLabel: false, showMaxLabel: false, formatter: fmtX,
      fontFamily: font, fontSize: 11.5, color: textColor,
      rich: { i: { fontFamily: font, fontSize: 11.5, fontStyle: 'italic', color: textColor } } }
  });
  option.yAxis.push({
    type: 'value', gridIndex: gi, min: L.yMin, max: L.yMax, minInterval: L.yStep, maxInterval: L.yStep,
    name: 'Return', nameLocation: 'middle', nameGap: L.yGap,
    nameTextStyle: { fontFamily: font, fontSize: 11.5, color: textColor },
    axisLine: { show: false }, axisTick: { show: false },
    splitLine: { lineStyle: { color: '#dddddd', width: 1 } },
    axisLabel: { margin: 6, showMinLabel: false, showMaxLabel: false,
      fontFamily: font, fontSize: 11.5, color: textColor,
      formatter: function (v) { return v.toFixed(L.yDec).replace('-', '\u2212'); } }
  });
  option.legend.push({
    orient: 'vertical', left: L.lgLeft, top: L.lgTop, data: p.names, selectedMode: false,
    icon: legendBar, symbolKeepAspect: true, itemWidth: 21, itemHeight: 12, itemGap: 2.7, padding: [2, 3, 2, 3],
    backgroundColor: 'rgba(255,255,255,0.8)', borderColor: '#cccccc', borderWidth: 1, borderRadius: 3,
    itemStyle: { opacity: gi < 3 ? 0.7 : 0.85 },
    textStyle: { fontFamily: font, fontSize: 10.5, color: textColor, lineHeight: 12 }
  });
  p.means.forEach(function (mean, s) {
    option.series.push(bandSeries(gi, p.steps, mean, p.sds[s], colors[s]));
  });
  p.means.forEach(function (mean, s) {
    const pts = [];
    p.steps.forEach(function (x, i) { if (mean[i] != null) pts.push([x, mean[i]]); });
    const ser = {
      type: 'line', name: p.names[s], xAxisIndex: gi, yAxisIndex: gi, data: pts, z: 2,
      symbol: 'none', showSymbol: false, silent: true,
      color: colors[s], lineStyle: { color: colors[s], width: L.lw }
    };
    if (s === 0) {
      ser.markLine = { silent: true, symbol: 'none', label: { show: false },
        lineStyle: { color: '#000', type: [4, 3], width: 1.2 },
        data: [{ xAxis: warmupSteps[gi] }] };
    }
    option.series.push(ser);
  });
  option.graphic.push({
    type: 'text', x: L.capX, y: L.capY,
    style: { text: '{s|' + captions[gi][0] + ' }{m|' + captions[gi][1] + '}',
      align: 'center', verticalAlign: 'middle',
      rich: { s: { fontFamily: 'Liberation Serif', fontSize: 21, fill: '#000' },
              m: { fontFamily: 'Liberation Mono', fontSize: 21, fill: '#000' } } }
  });
});

chart.setOption(option);
</script>
</body>
</html>
